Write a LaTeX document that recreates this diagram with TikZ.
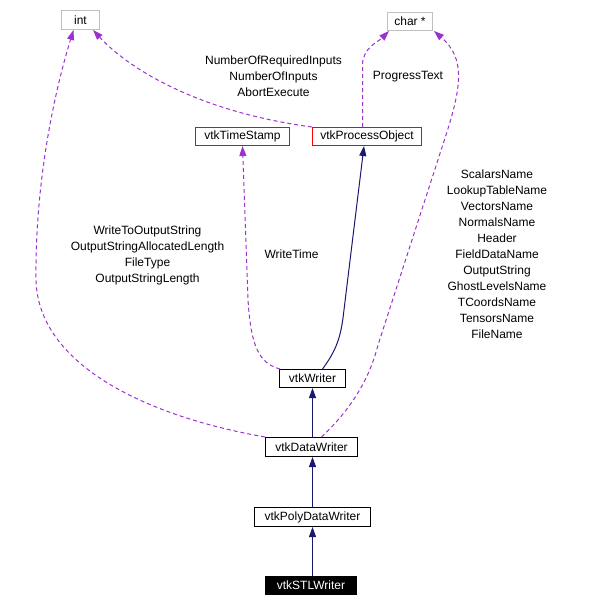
\documentclass[tikz,border=0pt]{standalone}
\usepackage{fontspec}
\setmainfont{Liberation Sans}
\usetikzlibrary{arrows.meta,calc}
\definecolor{edgepurple}{HTML}{9A32CD}
\definecolor{edgenavy}{HTML}{191970}
\definecolor{boxgray}{HTML}{BFBFBF}
\definecolor{boxred}{HTML}{FF0000}
\begin{document}
\begin{tikzpicture}[x=1pt,y=-1pt,
  lbl/.style={font=\fontsize{12}{16}\selectfont, align=center, inner sep=0pt},
  box/.style={line width=1pt, minimum height=18pt, inner sep=0pt, font=\fontsize{12}{14}\selectfont},
  extbox/.style={box, draw=boxgray},
  redbox/.style={box, draw=boxred},
  normbox/.style={box, draw=black},
  curbox/.style={box, draw=black, fill=black, text=white},
  inh/.style={draw=edgenavy, line width=1pt, -{Triangle[length=10pt,width=7pt]}},
  usage/.style={draw=edgepurple, line width=1pt, dash pattern=on 4pt off 3pt, -{Triangle[length=10pt,width=7pt]}}]
\useasboundingbox (0,0) rectangle (590,608);
% nodes
\node[extbox, minimum width=38pt, minimum height=19pt] (int) at (80.5,20) {int};
\node[extbox, minimum width=45pt] (chr) at (410,21.5) {char *};
\node[redbox, minimum width=94pt] (ts) at (242.5,136.5) {vtkTimeStamp};
\node[redbox, minimum width=109pt] (po) at (367,136.5) {vtkProcessObject};
\node[normbox, minimum width=66pt] (wr) at (312.5,378.5) {vtkWriter};
\node[normbox, minimum width=92pt, minimum height=19pt] (dw) at (311.5,447) {vtkDataWriter};
\node[normbox, minimum width=116pt, minimum height=19pt] (pdw) at (312.5,517) {vtkPolyDataWriter};
\node[curbox, minimum width=91pt] (stl) at (311,585.5) {vtkSTLWriter};
% labels
\node[lbl] (l1) at (273.5,76) {NumberOfRequiredInputs\\NumberOfInputs\\AbortExecute};
\node[lbl] (l2) at (408,76.5) {ProgressText};
\node[lbl] (l3) at (147.5,255) {WriteToOutputString\\OutputStringAllocatedLength\\FileType\\OutputStringLength};
\node[lbl] (l4) at (291.5,254.5) {WriteTime};
\node[lbl] (l5) at (497,254) {ScalarsName\\LookupTableName\\VectorsName\\NormalsName\\Header\\FieldDataName\\OutputString\\GhostLevelsName\\TCoordsName\\TensorsName\\FileName};
% inheritance edges
\draw[inh] (dw.north -| wr.south) -- (wr.south);
\draw[inh] (pdw.north) -- (dw.south -| pdw.north);
\draw[inh] (stl.north -| pdw.south) -- (pdw.south);
\draw[inh] ($(wr.north)+(10,0)$) .. controls (335,352) and (340,340) .. (343,318) -- ($(po.south)+(-3,0)$);
% usage edges
\draw[usage] (po.north west) .. controls (200,112) and (130,70) .. ($(int.south east)+(-7,0)$);
\draw[usage] (dw.north west) .. controls (140,415) and (38,362) .. (36,280) .. controls (35,180) and (55,90) .. ($(int.south)+(-7,0)$);
\draw[usage] ($(po.north)+(-4.5,0)$) -- (362.5,65) .. controls (362.5,48) and (378,42) .. ($(chr.south west)+(2,0)$);
\draw[usage] ($(dw.north)+(10,0)$) .. controls (345,415) and (368,385) .. (378,345) -- (446,135) .. controls (462,85) and (465,58) .. ($(chr.south east)+(1,0)$);
\draw[usage] ($(wr.north west)+(1,0)$) .. controls (258,363) and (251,345) .. (248,300) -- (ts.south);
\end{tikzpicture}
\end{document}
